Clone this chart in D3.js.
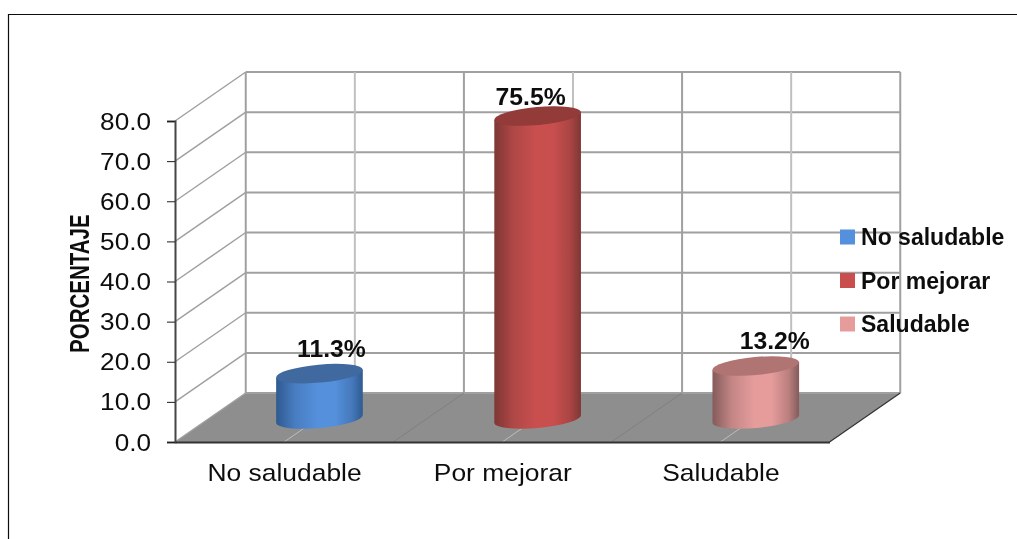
<!DOCTYPE html>
<html>
<head>
<meta charset="utf-8">
<script src="https://cdn.jsdelivr.net/npm/d3@7/dist/d3.min.js"></script>
<style>
html,body{margin:0;padding:0;background:#fff;overflow:hidden}
svg{display:block;font-family:"Liberation Sans",Arial,sans-serif}
</style>
</head>
<body>
<svg id="c" width="1017" height="539"></svg>
<script>
const categories = ["No saludable", "Por mejorar", "Saludable"];
const values = [11.3, 75.5, 13.2];
const valueLabels = ["11.3%", "75.5%", "13.2%"];
const yTicks = [0, 10, 20, 30, 40, 50, 60, 70, 80];
const yTitle = "PORCENTAJE";
const baseColors = ["#5590dc", "#c9504f", "#e59c9b"];
const edgeColors = ["#2f5a90", "#7f3635", "#855b5b"];
const topColors = ["#406a9f", "#923a39", "#b07473"];

const svg = d3.select("#c");
const defs = svg.append("defs");
const blur = defs.append("filter").attr("id", "soft").attr("x", "-2%").attr("y", "-2%").attr("width", "104%").attr("height", "104%");
blur.append("feGaussianBlur").attr("stdDeviation", 0.45);
const root = svg.append("g").attr("filter", "url(#soft)");

// frame
root.append("path").attr("d", "M8.5,539V14.5H1017").attr("fill", "none").attr("stroke", "#111").attr("stroke-width", 1.2);

// 3D box geometry
const x0 = 175, x1 = 829.5, yBase = 442, yTop = 121, depthX = 70.75, depthY = -49;
const y = d3.scaleLinear().domain([0, 80]).range([yBase, yTop]);
const xBand = d3.scalePoint().domain(categories).range([x0, x1]).padding(0.5);
const step = xBand.step() / 2;
const gridGray = "#a0a0a0", lightGray = "#c0c0c0";

// floor
root.append("polygon")
  .attr("points", [[x0, yBase], [x0 + depthX, yBase + depthY], [x1 + depthX, yBase + depthY], [x1, yBase]].join(" "))
  .attr("fill", "#8e8e8e");

// horizontal grid on back wall + side wall
yTicks.forEach(t => {
  const yy = y(t) + depthY;
  root.append("line").attr("x1", x0 + depthX).attr("x2", x1 + depthX).attr("y1", yy).attr("y2", yy)
    .attr("stroke", gridGray).attr("stroke-width", 2);
  root.append("line").attr("x1", x0).attr("x2", x0 + depthX).attr("y1", y(t)).attr("y2", yy)
    .attr("stroke", gridGray).attr("stroke-width", 1.5);
});

// vertical grid on back wall and floor lines
d3.range(0, 7).forEach(i => {
  const xf = x0 + i * step;
  const boundary = i % 2 === 0;
  root.append("line").attr("x1", xf + depthX).attr("x2", xf + depthX)
    .attr("y1", y(80) + depthY).attr("y2", y(0) + depthY)
    .attr("stroke", boundary ? gridGray : lightGray).attr("stroke-width", 2);
  if (i > 0 && i < 6) {
    root.append("line").attr("x1", xf).attr("x2", xf + depthX).attr("y1", yBase).attr("y2", yBase + depthY)
      .attr("stroke", boundary ? "#808080" : "#bdbdbd").attr("stroke-width", 1);
  }
});
root.append("line").attr("x1", x1).attr("y1", yBase).attr("x2", x1 + depthX).attr("y2", yBase + depthY)
  .attr("stroke", "#333").attr("stroke-width", 1.2);

// axes
const yAxis = d3.axisLeft(y).tickValues(yTicks).tickSize(8).tickPadding(0).tickFormat(d3.format(".1f"));
const gy = root.append("g").attr("transform", `translate(${x0},0)`).call(yAxis);
gy.select(".domain").attr("stroke", "#444").attr("stroke-width", 2);
gy.selectAll(".tick line").attr("stroke", "#222").attr("stroke-width", 1);
gy.selectAll(".tick text")
  .attr("font-size", 24).attr("fill", "#111").attr("font-family", '"Liberation Sans"')
  .attr("text-anchor", "end").attr("x", 0).attr("dy", 0)
  .attr("transform", "translate(-24,8) scale(1.09,1)");

const xAxis = d3.axisBottom(xBand).tickSize(0).tickPadding(0);
const gx = root.append("g").attr("transform", `translate(0,${yBase})`).call(xAxis);
gx.select(".domain").attr("stroke", "#333").attr("stroke-width", 2);
gx.selectAll(".tick text")
  .attr("font-size", 24).attr("fill", "#111").attr("font-family", '"Liberation Sans"')
  .attr("text-anchor", "middle").attr("y", 0).attr("dy", 0)
  .attr("transform", "translate(0,39) scale(1.1,1)");

// y title
root.append("text").text(yTitle)
  .attr("transform", "translate(89,353) rotate(-90) scale(0.76,1)")
  .attr("font-size", 27).attr("font-weight", "bold").attr("fill", "#111");

// cylinders
const rx = 43.5, ry = 9, tilt = 5.2, floorOffset = 23;
const tiltRad = tilt * Math.PI / 180;
const ex = rx * Math.cos(tiltRad), ey = rx * Math.sin(tiltRad);
categories.forEach((c, i) => {
  const cx = xBand(c) + depthX / 2;
  const baseY = y(0) - floorOffset;
  const topY = y(values[i]) - floorOffset;
  const grad = defs.append("linearGradient").attr("id", "cyl" + i)
    .attr("x1", 0).attr("x2", 1).attr("y1", 0).attr("y2", 0);
  const mix = d3.interpolateRgb(edgeColors[i], baseColors[i]);
  grad.append("stop").attr("offset", "0%").attr("stop-color", edgeColors[i]);
  grad.append("stop").attr("offset", "22%").attr("stop-color", mix(0.65));
  grad.append("stop").attr("offset", "48%").attr("stop-color", baseColors[i]);
  grad.append("stop").attr("offset", "68%").attr("stop-color", baseColors[i]);
  grad.append("stop").attr("offset", "88%").attr("stop-color", mix(0.55));
  grad.append("stop").attr("offset", "100%").attr("stop-color", edgeColors[i]);
  root.append("path")
    .attr("d", `M${cx - ex},${topY + ey} L${cx - ex},${baseY + ey} A${rx},${ry} ${-tilt} 0 0 ${cx + ex},${baseY - ey} L${cx + ex},${topY - ey} Z`)
    .attr("fill", `url(#cyl${i})`);
  root.append("ellipse").attr("cx", 0).attr("cy", 0).attr("rx", rx).attr("ry", ry)
    .attr("transform", `translate(${cx},${topY}) rotate(${-tilt})`)
    .attr("fill", topColors[i]);
});

// data labels
const labelDx = [12, -7, 19], labelDy = [-17, -11, -17];
categories.forEach((c, i) => {
  const cx = xBand(c) + depthX / 2 + labelDx[i];
  const ly = y(values[i]) - floorOffset + labelDy[i];
  root.append("text").text(valueLabels[i])
    .attr("transform", `translate(${cx},${ly}) scale(1.03,1)`)
    .attr("text-anchor", "middle").attr("font-size", 24).attr("font-weight", "bold").attr("fill", "#111");
});

// legend
const legendY = d3.scalePoint().domain(categories).range([237, 324]);
categories.forEach((c, i) => {
  const ly = legendY(c);
  root.append("rect").attr("x", 840).attr("y", ly - 7.5).attr("width", 15).attr("height", 15)
    .attr("fill", baseColors[i]);
  root.append("text").text(c)
    .attr("transform", `translate(861,${ly + 8}) scale(0.96,1)`)
    .attr("font-size", 24).attr("font-weight", "bold").attr("fill", "#111");
});
</script>
</body>
</html>
